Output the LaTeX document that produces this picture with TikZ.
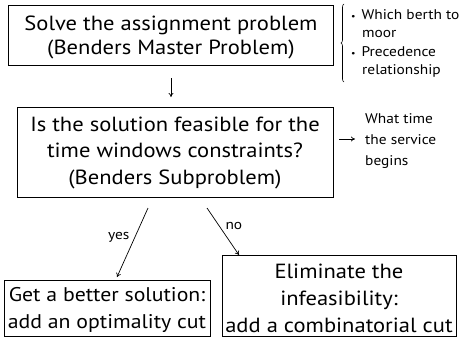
\documentclass[tikz,border=0pt]{standalone}
\usepackage{fontspec}
\setmainfont[FakeStretch=1.1]{PT Sans}
\usetikzlibrary{decorations.pathreplacing,arrows.meta}
% taller first line so the text block sits centred in its box
\newcommand{\firststrut}{\rule{0pt}{19pt}}
\begin{document}
\begin{tikzpicture}[x=1pt,y=-1pt,
  box/.style={draw,line width=0.9pt,rectangle,inner sep=0pt,align=center,
    font=\fontsize{20.5}{26.5}\selectfont},
  note/.style={anchor=north west,inner sep=0pt,align=left,
    font=\fontsize{14}{18.5}\selectfont},
  arr/.style={line width=0.7pt,-{To[length=4pt,width=5pt]}},
  lbl/.style={inner sep=0pt,font=\fontsize{14}{16}\selectfont}]
\useasboundingbox (0,0) rectangle (461,343);
% the four boxes
\node[box,minimum width=325pt,minimum height=60pt,
  font=\fontsize{20.5}{24}\selectfont] (master) at (171,35)
  {\firststrut Solve the assignment problem\\(Benders Master Problem)};
\node[box,minimum width=316pt,minimum height=90pt] (sub) at (175,152.5)
  {Is the solution feasible for the\\time windows constraints?\\(Benders Subproblem)};
\node[box,minimum width=206pt,minimum height=56pt,
  font=\fontsize{19.8}{27}\selectfont] (opt) at (107,308)
  {\firststrut Get a better solution:\\add an optimality cut};
\node[box,minimum width=234pt,minimum height=81pt,
  font=\fontsize{20.5}{26.8}\selectfont] (comb) at (339,296)
  {\firststrut Eliminate the\\infeasibility:\\add a combinatorial cut};
% side notes
\node[note] (berth) at (351,9)
  {{\fontsize{9}{9}\selectfont\textbullet}\hspace{6pt}Which berth to\\\hspace{11pt}moor\\
   {\fontsize{9}{9}\selectfont\textbullet}\hspace{6pt}Precedence\\\hspace{11pt}relationship};
\node[note,font=\fontsize{14}{21}\selectfont] (when) at (365,113)
  {What time\\the service\\begins};
% brace next to the master problem
\coordinate (bt) at (344,4);
\coordinate (bb) at (344,82);
\draw[line width=0.6pt,decorate,decoration={brace,amplitude=3pt,mirror}] (bt) -- (bb);
% connectors
\coordinate (d1) at (171,78);
\coordinate (d2) at (171,97);
\draw[arr] (d1) -- (d2);
\coordinate (r1) at (339,139);
\coordinate (r2) at (355,139);
\draw[arr] (r1) -- (r2);
\coordinate (y1) at (148,208);
\coordinate (y2) at (117,277);
\draw[arr] (y1) -- (y2) node[lbl,pos=0.43,left=5pt] {yes};
\coordinate (n1) at (207,208);
\coordinate (n2) at (239,255);
\draw[arr] (n1) -- (n2) node[lbl,pos=0.38,right=6pt] {no};
\end{tikzpicture}
\end{document}
